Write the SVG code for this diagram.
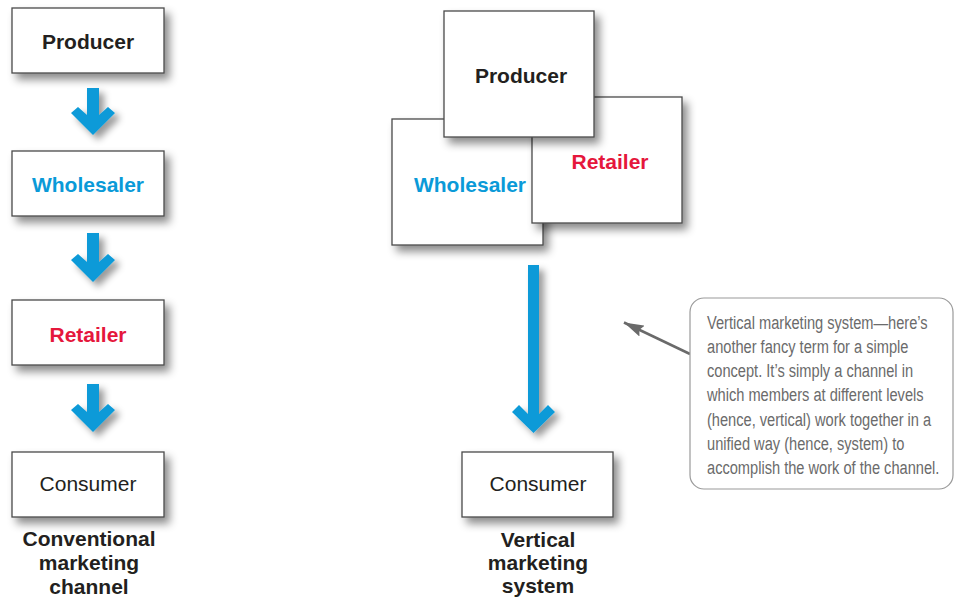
<svg xmlns="http://www.w3.org/2000/svg" width="956" height="599" viewBox="0 0 956 599">
<style>
.box{fill:#fff;stroke:#4a4a4a;stroke-width:1.3;filter:url(#sh)}
.t{font-family:"Liberation Sans",Arial,sans-serif;font-size:21px;text-anchor:middle;fill:#231f20}
.b{font-weight:bold}
.blue{fill:#0a9ad8}
.red{fill:#e5173c}
.arr{fill:#0a9ad8;filter:url(#sh2)}
.lbl{font-family:"Liberation Sans",Arial,sans-serif;font-size:21px;font-weight:bold;text-anchor:middle;fill:#231f20}
.note{font-family:"Liberation Sans",Arial,sans-serif;font-size:19px;fill:#6b6b6b}
</style>
<defs>
<filter id="sh" x="-20%" y="-20%" width="150%" height="160%">
<feDropShadow dx="5" dy="6" stdDeviation="4.5" flood-color="#000" flood-opacity="0.45"/>
</filter>
<filter id="sh2" x="-30%" y="-20%" width="180%" height="160%">
<feDropShadow dx="5" dy="5" stdDeviation="3.5" flood-color="#000" flood-opacity="0.4"/>
</filter>
<marker id="ah2" viewBox="0 0 20 12" refX="20" refY="6" markerWidth="20" markerHeight="12" orient="auto" markerUnits="userSpaceOnUse">
<path d="M0,0 L20,6 L0,12 L3,6 Z" fill="#6a6a6a"/>
</marker>
</defs>
<rect width="956" height="599" fill="#fff"/>

<g id="connectors">
<path class="arr" d="M87,88 H99 V115 L108,107 L115,113 L93,135 L71,113 L78,107 L87,115 Z"/>
<path class="arr" d="M87,233 H99 V262 L108,254 L115,260 L93,282 L71,260 L78,254 L87,262 Z"/>
<path class="arr" d="M87,384 H99 V412 L108,404 L115,410 L93,432 L71,410 L78,404 L87,412 Z"/>
<path class="arr" d="M528,265 H539 V414 L548,405 L555,412 L533.5,433 L512,412 L519,405 L528,414 Z"/>
<line x1="690" y1="354" x2="624" y2="322.5" stroke="#6a6a6a" stroke-width="2.5" marker-end="url(#ah2)"/>
</g>

<g id="conv-producer">
<rect class="box" x="12" y="8" width="152" height="65"/>
<text class="t b" x="88" y="49">Producer</text>
</g>
<g id="conv-wholesaler">
<rect class="box" x="12" y="151" width="152" height="65"/>
<text class="t b blue" x="88" y="192">Wholesaler</text>
</g>
<g id="conv-retailer">
<rect class="box" x="12" y="300" width="152" height="65"/>
<text class="t b red" x="88" y="342">Retailer</text>
</g>
<g id="conv-consumer">
<rect class="box" x="12" y="452" width="152" height="65"/>
<text class="t" x="88" y="491">Consumer</text>
</g>
<g id="conv-label">
<text class="lbl" x="89" y="546">Conventional</text>
<text class="lbl" x="89" y="570">marketing</text>
<text class="lbl" x="89" y="594">channel</text>
</g>

<g id="vms-wholesaler">
<rect class="box" x="392" y="119" width="151" height="126"/>
<text class="t b blue" x="470" y="192">Wholesaler</text>
</g>
<g id="vms-retailer">
<rect class="box" x="532" y="97" width="150" height="126"/>
<text class="t b red" x="610" y="169">Retailer</text>
</g>
<g id="vms-producer">
<rect class="box" x="444" y="11" width="150" height="126"/>
<text class="t b" x="521" y="83">Producer</text>
</g>
<g id="vms-consumer">
<rect class="box" x="462" y="452" width="151" height="65"/>
<text class="t" x="538" y="491">Consumer</text>
</g>
<g id="vms-label">
<text class="lbl" x="538" y="547">Vertical</text>
<text class="lbl" x="538" y="570">marketing</text>
<text class="lbl" x="538" y="593">system</text>
</g>

<g id="callout">
<rect x="690" y="298" width="263" height="191" rx="14" fill="#fff" stroke="#9a9a9a" stroke-width="1.2"/>
<g transform="translate(707,0) scale(0.77,1)">
<text class="note" x="0" y="329">Vertical marketing system—here’s</text>
<text class="note" x="0" y="353">another fancy term for a simple</text>
<text class="note" x="0" y="377">concept. It’s simply a channel in</text>
<text class="note" x="0" y="401">which members at different levels</text>
<text class="note" x="0" y="426">(hence, vertical) work together in a</text>
<text class="note" x="0" y="450">unified way (hence, system) to</text>
<text class="note" x="0" y="474">accomplish the work of the channel.</text>
</g>
</g>
</svg>
